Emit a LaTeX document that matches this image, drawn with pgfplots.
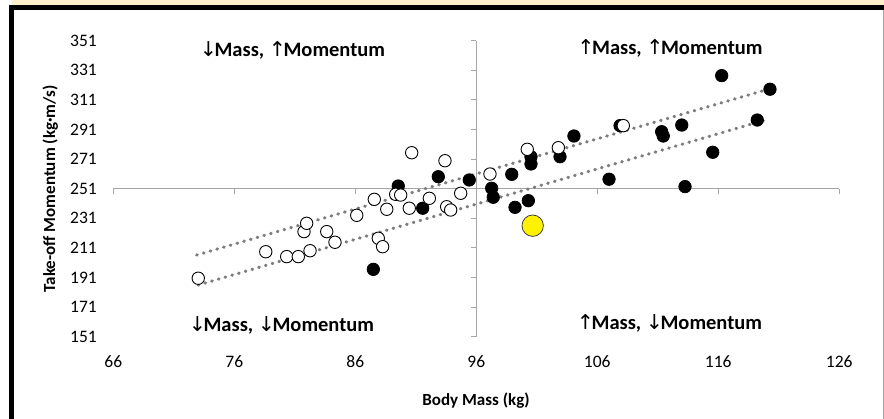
\documentclass[border=0pt]{standalone}
\usepackage{pgfplots}
\pgfplotsset{compat=1.18}
\usepackage{fontspec}
\setmainfont{Carlito}
\newfontfamily\arrowfont{DejaVu Sans}
\newcommand{\up}{{\arrowfont\mdseries ↑}\kern-2.5pt}
\newcommand{\dn}{{\arrowfont\mdseries ↓}\kern-2.5pt}
\definecolor{cream}{RGB}{253,240,204}
\definecolor{axgray}{RGB}{165,165,165}
\definecolor{trend}{RGB}{125,125,125}

\begin{document}
\begin{tikzpicture}
\useasboundingbox (0pt,0pt) rectangle (884pt,419pt);
\fill[white] (0pt,0pt) rectangle (884pt,419pt);
\fill[cream] (12pt,414pt) rectangle (884pt,419pt);
\fill[black] (8.5pt,409pt) rectangle (884pt,414pt);
\fill[black] (8.5pt,0pt) rectangle (13.5pt,414pt);
\draw[axgray, line width=1pt] (883.3pt,0pt) -- (883.3pt,409pt);

\begin{axis}[
  at={(113.3pt,82.3pt)}, anchor=south west,
  scale only axis, width=726pt, height=296pt,
  xmin=66, xmax=126, ymin=151, ymax=351,
  xtick={66,76,86,96,106,116,126}, ytick={151,171,191,211,231,251,271,291,311,331,351},
  axis line style={draw=none}, tick style={draw=none},
  ticklabel style={font=\fontsize{17.5}{18}\selectfont, inner sep=0pt},
  /pgf/number format/assume math mode=true,
  xticklabel style={anchor=north, yshift=-18.3pt},
  yticklabel style={anchor=east, xshift=-16.3pt},
  clip=false,
]
\draw[axgray, line width=1pt] (axis cs:96,151) -- (axis cs:96,351);
\draw[axgray, line width=1pt] (axis cs:66,251) -- (axis cs:126,251);
\pgfplotsinvokeforeach{151,171,191,211,231,251,271,291,311,331,351}{\draw[axgray, line width=1pt] (axis cs:96,#1) -- ([xshift=-5pt]axis cs:96,#1);}
\pgfplotsinvokeforeach{66,76,86,96,106,116,126}{\draw[axgray, line width=1pt] (axis cs:#1,251) -- ([yshift=-5pt]axis cs:#1,251);}

% filled (black) series
\addplot[only marks, mark=*, mark size=6.2pt, mark options={draw=black, fill=black, line width=0.8pt}] coordinates {
(87.49,196.5) (89.55,252.8) (91.57,237.8) (92.86,259.1) (95.42,256.9)
(97.27,251.3) (97.40,245.2) (98.93,260.7) (99.20,238.4) (100.30,242.9)
(100.52,272.6) (100.52,267.7) (102.92,272.6) (104.07,286.6) (106.97,257.4)
(107.88,293.6) (111.32,289.5) (111.45,286.6) (112.98,294.0) (113.25,252.4)
(115.54,275.6) (116.28,327.4) (119.22,297.4) (120.27,318.2)
};
% open (white) series
\addplot[only marks, mark=*, mark size=6.2pt, mark options={draw=black, fill=white, line width=0.9pt}] coordinates {
(73.02,190.5) (78.60,208.4) (80.33,205.1) (81.29,205.1) (82.26,209.1)
(81.76,222.0) (81.98,227.6) (83.64,222.0) (84.32,214.8) (86.12,233.0)
(87.57,243.8) (87.90,217.5) (88.26,211.8) (88.60,237.1) (89.34,247.2)
(89.75,246.7) (90.46,237.8) (90.66,275.3) (92.12,244.5) (93.41,269.9)
(93.55,238.8) (93.88,236.6) (94.71,247.9) (97.13,260.9) (100.21,277.6)
(102.78,278.7) (108.15,293.6)
};
% trendlines
\addplot[trend, line width=3.2pt, line cap=round, dash pattern=on 0.6pt off 6.4pt] coordinates {(72.89,206.2) (120.13,318.2)};
\addplot[trend, line width=3.2pt, line cap=round, dash pattern=on 0.6pt off 6.4pt] coordinates {(73.02,185.9) (119.72,297.0)};
% highlighted athlete
\addplot[only marks, mark=*, mark size=10.7pt, mark options={draw=black!75, fill=yellow, line width=0.8pt}] coordinates {(100.66,226.0)};
\end{axis}

\node[font=\bfseries\fontsize{20.5}{21}\selectfont, anchor=base, inner sep=0pt] at (292.5pt,362pt) {\dn Mass, \up Momentum};
\node[font=\bfseries\fontsize{20.5}{21}\selectfont, anchor=base, inner sep=0pt] at (670pt,364pt) {\up Mass, \up Momentum};
\node[font=\bfseries\fontsize{20.5}{21}\selectfont, anchor=base, inner sep=0pt] at (281.5pt,87.3pt) {\dn Mass, \dn Momentum};
\node[font=\bfseries\fontsize{20.5}{21}\selectfont, anchor=base, inner sep=0pt] at (669.5pt,89pt) {\up Mass, \dn Momentum};

\node[font=\bfseries\fontsize{17}{17}\selectfont, anchor=base, inner sep=0pt] at (476pt,13pt) {Body Mass (kg)};
\node[font=\bfseries\fontsize{17}{17}\selectfont, anchor=base, inner sep=0pt, rotate=90] at (55pt,230pt) {Take-off Momentum (kg·m/s)};
\end{tikzpicture}
\end{document}
